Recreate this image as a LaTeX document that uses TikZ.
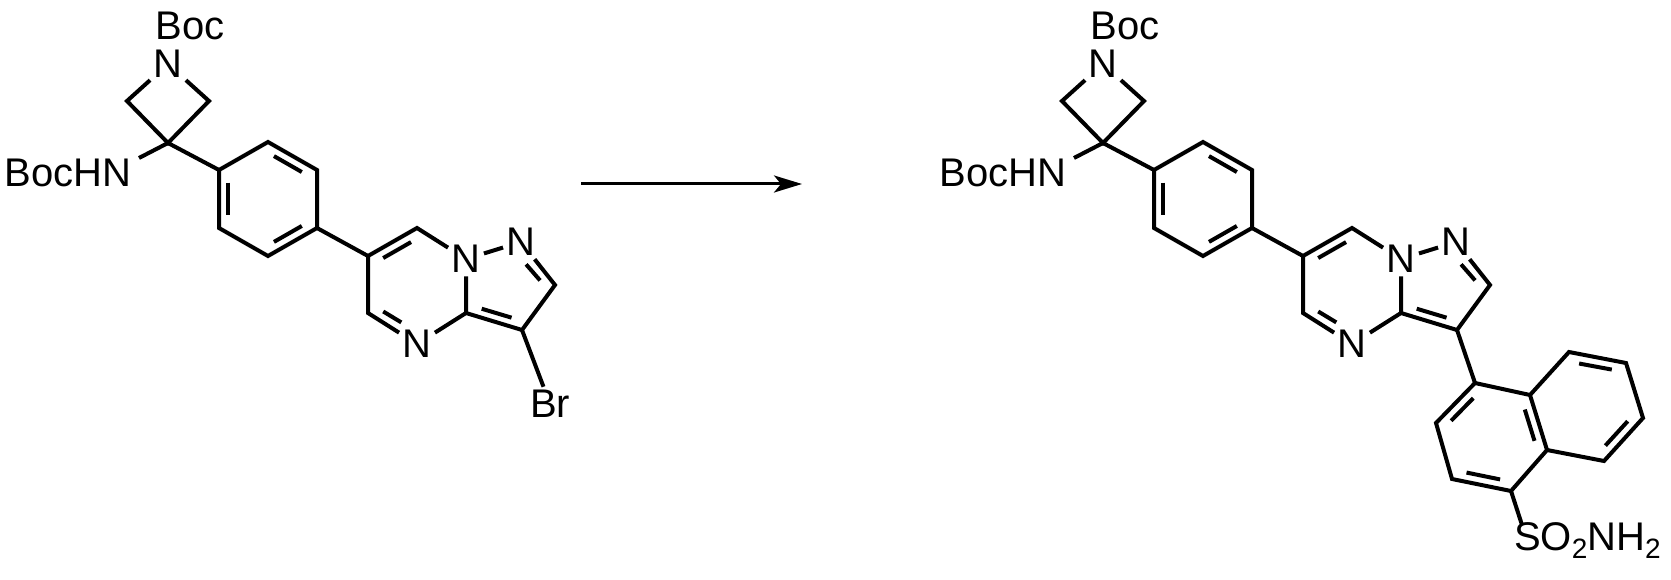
\documentclass[tikz,border=0pt]{standalone}
\usepackage{fontspec}
\setmainfont{Liberation Sans}
\usetikzlibrary{calc,arrows.meta}
\newcommand\dbl[5]{\draw ($($(#1)!#4!(#2)$)!10pt!(#3)$) -- ($($(#1)!#5!(#2)$)!10pt!(#3)$);}
\newcommand\subtwo{\raisebox{-8pt}{\fontsize{28}{28}\selectfont 2}}
\newcommand\core[2]{%
\begin{scope}[xshift=#2pt]
\node[lbl] (#1Boc) at (190,26) {Boc};
\node[lbl] (#1Naz) at (168,64) {N};
\coordinate (#1CL) at (127,101);
\coordinate (#1CR) at (209,101);
\coordinate (#1Cq) at (168,143);
\draw (#1Naz)--(#1CL)--(#1Cq)--(#1CR)--(#1Naz);
\node[lbl,anchor=east] (#1HN) at (135,173) {BocHN};
\coordinate (#1hn) at (139,158);
\draw (#1Cq)--(#1hn);
\coordinate (#1top) at (268,142);
\coordinate (#1UL) at (219,170);
\coordinate (#1UR) at (317,170);
\coordinate (#1LL) at (219,228);
\coordinate (#1LR) at (317,228);
\coordinate (#1bot) at (268,256);
\coordinate (#1bc) at (268,199);
\draw (#1Cq)--(#1UL);
\draw (#1top)--(#1UR)--(#1LR)--(#1bot)--(#1LL)--(#1UL)--cycle;
\dbl{#1top}{#1UR}{#1bc}{0.15}{0.85}
\dbl{#1UL}{#1LL}{#1bc}{0.15}{0.85}
\dbl{#1bot}{#1LR}{#1bc}{0.15}{0.85}
\coordinate (#1C6) at (368,256);
\coordinate (#1C7) at (417,228);
\node[lbl] (#1N1) at (466,259) {N};
\coordinate (#1C3a) at (466,313);
\node[lbl] (#1N4) at (417,344) {N};
\coordinate (#1C5) at (368,313);
\coordinate (#1pm) at (417,285);
\node[lbl] (#1N2) at (521,242) {N};
\coordinate (#1C2) at (555,285);
\coordinate (#1Cb) at (522,330);
\coordinate (#1pz) at (505,287);
\draw (#1LR)--(#1C6);
\draw (#1C6)--(#1C7)--(#1N1)--(#1C3a)--(#1N4)--(#1C5)--(#1C6);
\draw (#1N1)--(#1N2)--(#1C2)--(#1Cb)--(#1C3a);
\dbl{#1C6}{#1C7}{#1pm}{0.15}{0.85}
\dbl{#1C5}{#1N4}{#1pm}{0.15}{0.6}
\dbl{#1N2}{#1C2}{#1pz}{0.35}{0.85}
\dbl{#1C3a}{#1Cb}{#1pz}{0.15}{0.85}
\end{scope}}
\begin{document}
\begin{tikzpicture}[x=1pt,y=-1pt,line width=4pt,line join=miter,
  lbl/.style={inner sep=1.5pt,font=\fontsize{40}{42}\selectfont}]
\useasboundingbox (0,0) rectangle (1671,580);
\core{a}{0}
\node[lbl] (Br) at (550,404) {Br};
\draw (aCb)--(Br);
\coordinate (ar1) at (581,184);
\coordinate (ar2) at (802,184);
\draw[-{Stealth[length=28pt,width=17pt,inset=7pt]},line width=3pt] (ar1)--(ar2);
\core{b}{935}
\coordinate (n1) at (1475,383);
\coordinate (n8a) at (1530,395);
\coordinate (n4a) at (1547,450);
\coordinate (n4) at (1511,491);
\coordinate (n3) at (1452,479);
\coordinate (n2) at (1436,423);
\coordinate (n8) at (1569,352);
\coordinate (n7) at (1626,363);
\coordinate (n6) at (1643,418);
\coordinate (n5) at (1604,461);
\coordinate (lc) at (1491,437);
\coordinate (rc) at (1586,407);
\draw (bCb)--(n1);
\draw (n1)--(n8a)--(n4a)--(n4)--(n3)--(n2)--cycle;
\draw (n8a)--(n8)--(n7)--(n6)--(n5)--(n4a);
\dbl{n1}{n2}{lc}{0.15}{0.85}
\dbl{n3}{n4}{lc}{0.15}{0.85}
\dbl{n8a}{n4a}{lc}{0.15}{0.85}
\dbl{n8}{n7}{rc}{0.15}{0.85}
\dbl{n6}{n5}{rc}{0.15}{0.85}
\coordinate (so) at (1522,525);
\draw (n4)--(so);
\node[lbl,anchor=base west,inner sep=0pt] (SO) at (1512,550) {SO\subtwo NH\subtwo};
\end{tikzpicture}
\end{document}
